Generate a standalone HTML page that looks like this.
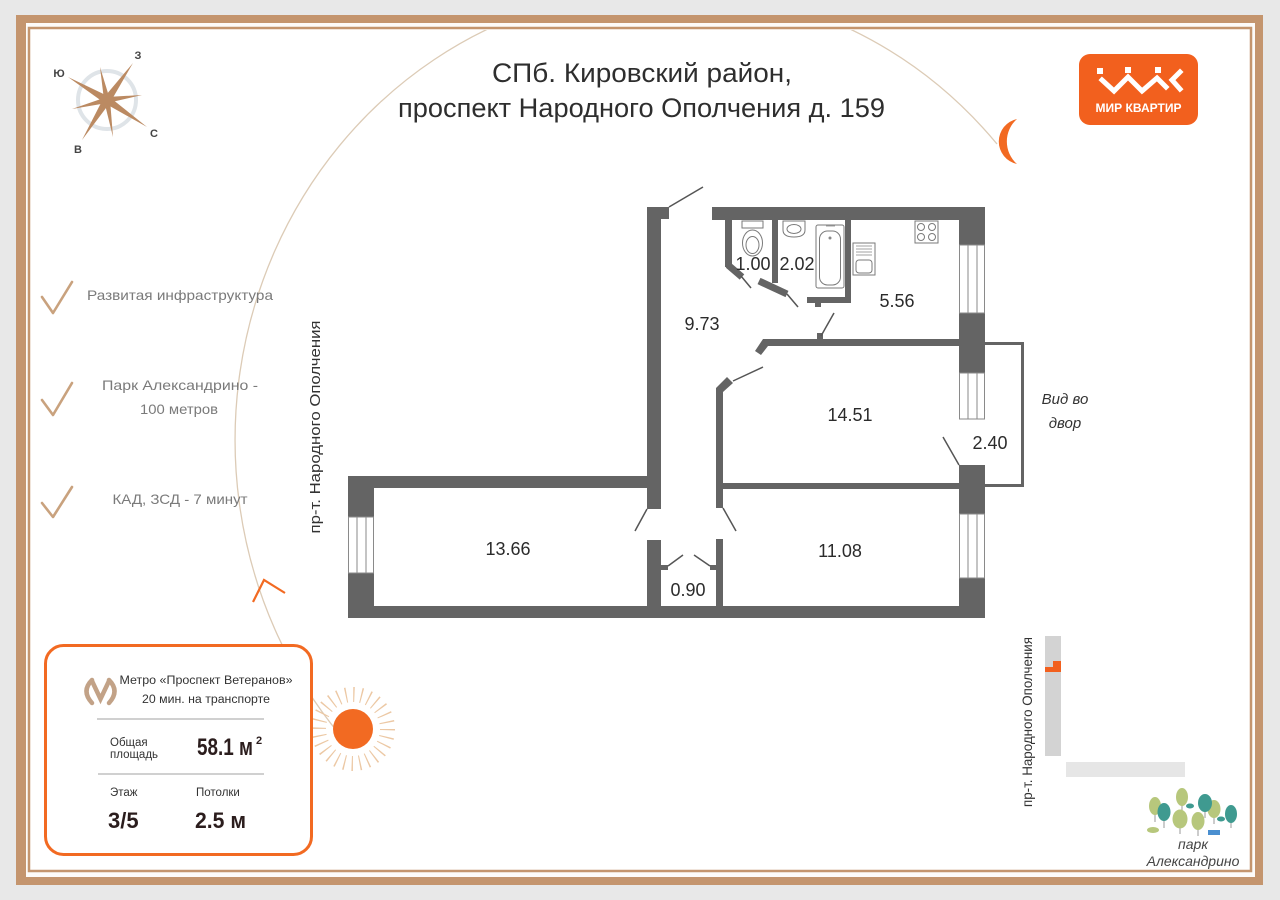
<!DOCTYPE html>
<html><head><meta charset="utf-8"><style>
html,body{margin:0;padding:0;background:#e8e8e8;}
svg{display:block;}
text{font-family:"Liberation Sans","DejaVu Sans",sans-serif;}
</style></head><body>
<svg width="1280" height="900" viewBox="0 0 1280 900" xmlns="http://www.w3.org/2000/svg">
<defs><clipPath id="inner"><rect x="31" y="30" width="1218" height="839"/></clipPath></defs>
<rect x="0" y="0" width="1280" height="900" fill="#e8e8e8"/>
<rect x="16" y="15" width="1247" height="870" fill="#c4956e"/>
<rect x="26" y="23" width="1229" height="854" fill="#fdfbf9"/>
<rect x="29" y="28" width="1222" height="843" fill="#ffffff" stroke="#c4956e" stroke-width="2.5"/>

<!-- arc -->
<path clip-path="url(#inner)" d="M340,735 A433,452 0 0 1 668,-12 A433,452 0 0 1 997,144" fill="none" stroke="#dccbb6" stroke-width="1.3"/>
<!-- arc arrow -->
<polyline points="253,602 264,580 285,593" fill="none" stroke="#f26a22" stroke-width="2.2"/>
<!-- moon -->
<path d="M1017,119 A23,23 0 0 0 1017,164 A30,30 0 0 1 1017,119 Z" fill="#f26a22"/>
<!-- sun -->
<circle cx="353" cy="729" r="34.5" fill="none" stroke="#ecc8a4" stroke-width="15" stroke-dasharray="1.3 6.44"/>
<circle cx="353" cy="729" r="20" fill="#f26a22"/>

<!-- compass -->
<circle cx="107" cy="100" r="29" fill="none" stroke="#dfe4e8" stroke-width="4"/>
<g fill="#bb8a62">
<polygon points="133,63 110.3,102.3 103.7,97.7"/>
<polygon points="147,127 104.8,103.3 109.2,96.7"/>
<polygon points="68,77 109,96.6 105,103.4"/>
<polygon points="82,140 103.6,97.9 110.4,102.1"/>
<polygon points="100,67 109.9,99.4 104.1,100.6"/>
<polygon points="142,95 107.4,103 106.6,97"/>
<polygon points="72,109 106.3,97.1 107.7,102.9"/>
<polygon points="113,137 104,100.5 110,99.5"/>
</g>
<g font-size="11" font-weight="bold" fill="#444" text-anchor="middle">
<text x="138" y="59">З</text>
<text x="59" y="77">Ю</text>
<text x="154" y="137">С</text>
<text x="78" y="153">В</text>
</g>

<!-- title -->
<text x="492" y="82" font-size="27" fill="#2e2e2e" textLength="300" lengthAdjust="spacingAndGlyphs">СПб. Кировский район,</text>
<text x="398" y="117" font-size="27" fill="#2e2e2e" textLength="487" lengthAdjust="spacingAndGlyphs">проспект Народного Ополчения д. 159</text>

<!-- logo -->
<rect x="1079" y="54" width="119" height="71" rx="11" fill="#f2601e"/>
<g fill="none" stroke="#fff" stroke-width="5" stroke-linecap="square" stroke-linejoin="miter">
<polyline points="1102,80 1114,91 1128,77 1142,91 1157,78 1166,87"/>
<polyline points="1180,72 1172,80 1180,89"/>
</g>
<g fill="#fff">
<rect x="1097" y="68" width="6" height="6"/>
<rect x="1125" y="67" width="6" height="6"/>
<rect x="1155" y="67" width="6" height="6"/>
</g>
<text x="1138.5" y="112" font-size="11.5" font-weight="bold" fill="#fff" text-anchor="middle" textLength="86" lengthAdjust="spacingAndGlyphs">МИР КВАРТИР</text>

<!-- checklist -->
<g fill="none" stroke="#c9a27e" stroke-width="2.6" stroke-linecap="round" stroke-linejoin="round">
<polyline points="42,297 53,313 72,282"/>
<polyline points="42,400 53,415 72,383"/>
<polyline points="42,503 53,517 72,487"/>
</g>
<g font-size="14" fill="#7a7a7a" text-anchor="middle">
<text x="180" y="300" textLength="186" lengthAdjust="spacingAndGlyphs">Развитая инфраструктура</text>
<text x="180" y="390" textLength="156" lengthAdjust="spacingAndGlyphs">Парк Александрино -</text>
<text x="179" y="414" textLength="78" lengthAdjust="spacingAndGlyphs">100 метров</text>
<text x="180" y="504" textLength="135" lengthAdjust="spacingAndGlyphs">КАД, ЗСД - 7 минут</text>
</g>
<text transform="translate(320,427) rotate(-90)" font-size="15" fill="#333" text-anchor="middle" textLength="213" lengthAdjust="spacingAndGlyphs">пр-т. Народного Ополчения</text>

<!-- FLOOR PLAN -->
<g fill="#646464">
<rect x="348" y="476" width="313" height="12"/>
<rect x="348" y="476" width="26" height="41"/>
<rect x="348" y="573" width="26" height="45"/>
<rect x="348" y="606" width="637" height="12"/>
<rect x="647" y="207" width="14" height="302"/>
<rect x="647" y="207" width="22" height="12"/>
<rect x="647" y="540" width="14" height="78"/>
<rect x="661" y="565" width="7" height="5"/>
<rect x="710" y="565" width="7" height="5"/>
<rect x="716" y="539" width="7" height="79"/>
<polygon points="716,508 716,388 727,377 733,383 723,392 723,508"/>
<rect x="716" y="483" width="244" height="6"/>
<polygon points="763,339 960,339 960,346 768,346 761,355 755,351"/>
<rect x="959" y="207" width="26" height="38"/>
<rect x="959" y="313" width="26" height="60"/>
<rect x="959" y="465" width="26" height="49"/>
<rect x="959" y="578" width="26" height="40"/>
<rect x="712" y="207" width="273" height="13"/>
<rect x="725" y="220" width="7" height="47"/>
<rect x="772" y="220" width="6" height="63"/>
<rect x="845" y="220" width="6" height="83"/>
<rect x="807" y="297" width="44" height="6"/>
<rect x="815" y="302" width="6" height="5"/>
<rect x="817" y="333" width="6" height="7"/>
</g>
<g stroke="#646464" stroke-width="7" fill="none">
<line x1="728" y1="265" x2="742" y2="277"/>
<line x1="759" y1="281" x2="787" y2="294"/>
</g>
<!-- windows -->
<g fill="#fff" stroke="#8a8a8a" stroke-width="1">
<rect x="348.5" y="517" width="25" height="56"/>
<rect x="959.5" y="245" width="25" height="68"/>
<rect x="959.5" y="373" width="25" height="46"/>
<rect x="959.5" y="514" width="25" height="64"/>
</g>
<g stroke="#8a8a8a" stroke-width="1">
<line x1="357" y1="517" x2="357" y2="573"/><line x1="366" y1="517" x2="366" y2="573"/>
<line x1="968" y1="245" x2="968" y2="313"/><line x1="977" y1="245" x2="977" y2="313"/>
<line x1="968" y1="373" x2="968" y2="419"/><line x1="977" y1="373" x2="977" y2="419"/>
<line x1="968" y1="514" x2="968" y2="578"/><line x1="977" y1="514" x2="977" y2="578"/>
</g>
<!-- balcony -->
<polyline points="985,343.5 1022.5,343.5 1022.5,485.5 985,485.5" fill="none" stroke="#646464" stroke-width="3"/>
<!-- door lines -->
<g stroke="#555" stroke-width="1.5" fill="none">
<line x1="669" y1="207" x2="703" y2="187"/>
<line x1="647" y1="509" x2="635" y2="531"/>
<line x1="723" y1="508" x2="736" y2="531"/>
<line x1="668" y1="566" x2="683" y2="555"/>
<line x1="710" y1="566" x2="694" y2="555"/>
<line x1="741" y1="276" x2="751" y2="288"/>
<line x1="787" y1="294" x2="798" y2="307"/>
<line x1="821" y1="336" x2="834" y2="313"/>
<line x1="733" y1="381" x2="763" y2="367"/>
<line x1="943" y1="437" x2="959" y2="465"/>
</g>
<!-- fixtures -->
<g fill="#fff" stroke="#7a7a7a" stroke-width="1">
<rect x="742" y="221" width="21" height="7"/>
<ellipse cx="752.5" cy="243" rx="10" ry="13"/>
<ellipse cx="752.5" cy="245" rx="6.5" ry="8.5"/>
<path d="M783,221 L805,221 L805,230 Q805,237 794,237 Q783,237 783,230 Z"/>
<ellipse cx="794" cy="229" rx="7" ry="4.5"/>
<rect x="816" y="225" width="28" height="63" rx="2"/>
<rect x="819.5" y="231" width="21" height="54" rx="8"/>
<rect x="853" y="243" width="22" height="32"/>
<rect x="856" y="260" width="16" height="13" rx="3"/>
<rect x="915" y="221" width="23" height="22"/>
<circle cx="921" cy="227" r="3.5"/><circle cx="932" cy="227" r="3.5"/>
<circle cx="921" cy="237" r="3.5"/><circle cx="932" cy="237" r="3.5"/>
</g>
<g stroke="#8a8a8a" stroke-width="0.8">
<line x1="856" y1="246" x2="872" y2="246"/><line x1="856" y1="249" x2="872" y2="249"/>
<line x1="856" y1="252" x2="872" y2="252"/><line x1="856" y1="255" x2="872" y2="255"/>
<line x1="826" y1="226" x2="835" y2="226"/>
</g>
<circle cx="830" cy="238" r="1.5" fill="#888"/>
<!-- room labels -->
<g font-size="18" fill="#2b2b2b" text-anchor="middle">
<text x="753" y="270">1.00</text>
<text x="797" y="270">2.02</text>
<text x="897" y="307">5.56</text>
<text x="702" y="330">9.73</text>
<text x="850" y="421">14.51</text>
<text x="990" y="449">2.40</text>
<text x="840" y="557">11.08</text>
<text x="508" y="555">13.66</text>
<text x="688" y="596">0.90</text>
</g>
<g font-size="15" font-style="italic" fill="#333" text-anchor="middle">
<text x="1065" y="404">Вид во</text>
<text x="1065" y="428">двор</text>
</g>

<!-- info box -->
<rect x="45.5" y="645.5" width="266" height="209" rx="18" fill="#fff" stroke="#f26a22" stroke-width="3"/>
<g fill="none" stroke="#c2a287" stroke-width="4.5" stroke-linecap="round">
<path d="M92,680 Q81,691 92,703"/>
<path d="M109,680 Q120,691 109,703"/>
<path d="M92,681 L100.5,699 L109,681"/>
</g>
<g font-size="11.5" fill="#333" text-anchor="middle">
<text x="206" y="684" textLength="173" lengthAdjust="spacingAndGlyphs">Метро «Проспект Ветеранов»</text>
<text x="206" y="703" textLength="128" lengthAdjust="spacingAndGlyphs">20 мин. на транспорте</text>
</g>
<line x1="97" y1="719" x2="264" y2="719" stroke="#a0a0a0" stroke-width="1"/>
<g font-size="11.5" fill="#333">
<text x="110" y="746">Общая</text>
<text x="110" y="758">площадь</text>
<text x="110" y="796">Этаж</text>
<text x="196" y="796">Потолки</text>
</g>
<text x="197" y="755" font-size="24" font-weight="bold" fill="#2b1d1d" textLength="56" lengthAdjust="spacingAndGlyphs">58.1 м</text>
<text x="256" y="744" font-size="11" font-weight="bold" fill="#2b1d1d">2</text>
<line x1="98" y1="774" x2="264" y2="774" stroke="#a0a0a0" stroke-width="1"/>
<text x="108" y="828" font-size="22" font-weight="bold" fill="#2b1d1d">3/5</text>
<text x="195" y="828" font-size="22" font-weight="bold" fill="#2b1d1d" textLength="51" lengthAdjust="spacingAndGlyphs">2.5 м</text>

<!-- mini map -->
<rect x="1045" y="636" width="16" height="120" fill="#d3d3d3"/>
<rect x="1053" y="661" width="8" height="6" fill="#f2601e"/>
<rect x="1045" y="667" width="16" height="5" fill="#f2601e"/>
<rect x="1066" y="762" width="119" height="15" fill="#e6e6e6"/>
<text transform="translate(1032,722) rotate(-90)" font-size="14" fill="#333" text-anchor="middle" textLength="170" lengthAdjust="spacingAndGlyphs">пр-т. Народного Ополчения</text>
<!-- trees -->
<g stroke="#9a9a9a" stroke-width="1">
<line x1="1155" y1="805" x2="1155" y2="822"/><line x1="1164" y1="812" x2="1164" y2="828"/>
<line x1="1182" y1="797" x2="1182" y2="812"/><line x1="1205" y1="804" x2="1205" y2="818"/>
<line x1="1214" y1="809" x2="1214" y2="824"/><line x1="1180" y1="820" x2="1180" y2="834"/>
<line x1="1198" y1="822" x2="1198" y2="836"/><line x1="1231" y1="814" x2="1231" y2="828"/>
</g>
<g fill="#b7c77c">
<ellipse cx="1155" cy="806" rx="6" ry="9"/>
<ellipse cx="1182" cy="797" rx="6" ry="9"/>
<ellipse cx="1214" cy="809" rx="6.5" ry="9"/>
<ellipse cx="1180" cy="819" rx="7.5" ry="9.5"/>
<ellipse cx="1198" cy="821" rx="6.5" ry="9"/>
<ellipse cx="1153" cy="830" rx="6" ry="3"/>
</g>
<g fill="#3f9a90">
<ellipse cx="1164" cy="812" rx="6.5" ry="9"/>
<ellipse cx="1205" cy="803" rx="7" ry="9"/>
<ellipse cx="1231" cy="814" rx="6" ry="9"/>
<ellipse cx="1190" cy="806" rx="4" ry="2.5"/>
<ellipse cx="1221" cy="819" rx="4" ry="2.5"/>
</g>
<rect x="1208" y="830" width="12" height="5" fill="#4a8fd0"/>
<g font-size="14" font-style="italic" fill="#444" text-anchor="middle">
<text x="1193" y="849">парк</text>
<text x="1193" y="866">Александрино</text>
</g>
</svg>
</body></html>
